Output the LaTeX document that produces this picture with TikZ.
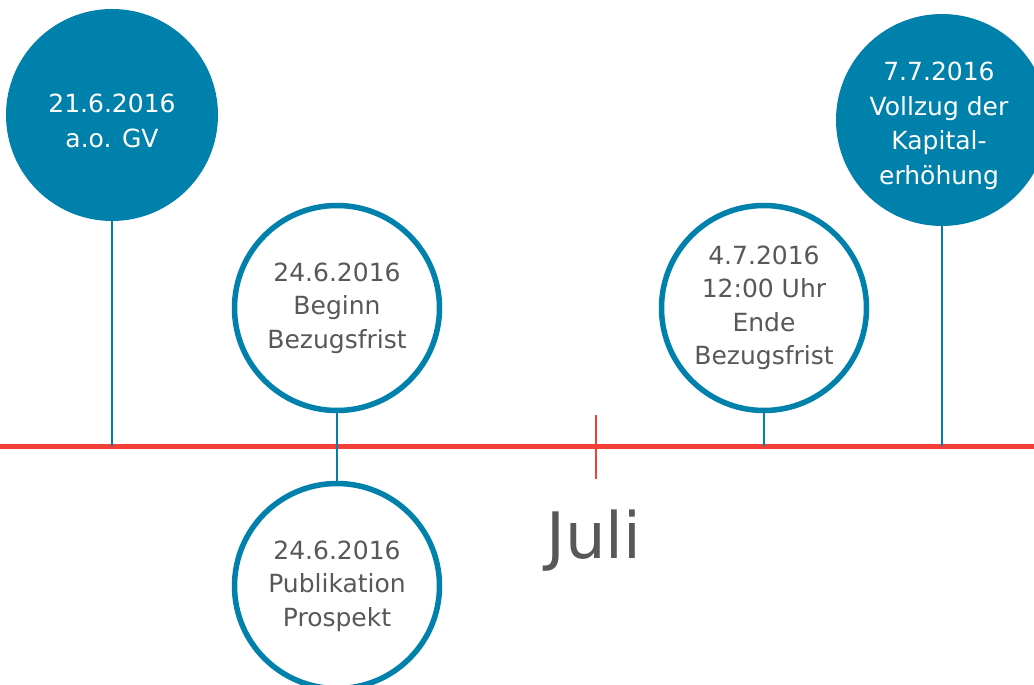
\documentclass[tikz,border=0pt]{standalone}
\usepackage{fontspec}
\setmainfont{DejaVu Sans}
\definecolor{tblue}{RGB}{0,129,171}
\definecolor{tred}{RGB}{242,64,56}
\definecolor{tgray}{RGB}{88,88,88}
\begin{document}
\begin{tikzpicture}[x=1pt,y=-1pt,
  filledcirc/.style={circle,fill=tblue,draw=none,minimum size=212pt,inner sep=0pt},
  whitetext/.style={text=white,align=center,inner sep=0pt,font=\fontsize{25}{34.5}\selectfont},
  ringcirc/.style={circle,fill=white,draw=tblue,line width=5.5pt,minimum size=205pt,inner sep=0pt,
    text=tgray,align=center,font=\fontsize{25}{33.5}\selectfont},
  stem/.style={draw=tblue,line width=2.2pt},
  axis/.style={draw=tred,line width=5pt},
  tickline/.style={draw=tred,line width=2.2pt}]
\useasboundingbox (0,0) rectangle (1034,685);
\clip (0,0) rectangle (1034,685);
\fill[white] (0,0) rectangle (1034,685);
% axis coordinates
\coordinate (axL) at (0,446);
\coordinate (axR) at (1034,446);
\coordinate (tickT) at (596,415);
\coordinate (tickB) at (596,479);
% circles
\node[filledcirc] (c1) at (112,115) {};
\node[whitetext] (c1t) at ([yshift=-6pt]c1.center) {21.6.2016\\a.o. GV};
\node[ringcirc] (c2) at (337,308) {24.6.2016\\Beginn\\Bezugsfrist};
\node[ringcirc] (c3) at (764,308) {4.7.2016\\12:00 Uhr\\Ende\\Bezugsfrist};
\node[ringcirc] (c4) at (337,586) {24.6.2016\\Publikation\\Prospekt};
\node[filledcirc] (c5) at (942,120) {};
\node[whitetext] (c5t) at ([yshift=-6pt,xshift=-3pt]c5.center) {7.7.2016\\Vollzug der\\Kapital-\\erhöhung};
% axis
\draw[axis] (axL) -- (axR);
\draw[tickline] (tickT) -- (tickB);
\node[text=tgray,font=\fontsize{64}{66}\selectfont,anchor=base] (juli) at (594,558) {Juli};
% stems
\draw[stem] (c1.south) -- (c1.south |- axL);
\draw[stem] (c2.south) -- (c4.north);
\draw[stem] (c3.south) -- (c3.south |- axL);
\draw[stem] (c5.south) -- (c5.south |- axL);
\end{tikzpicture}
\end{document}
